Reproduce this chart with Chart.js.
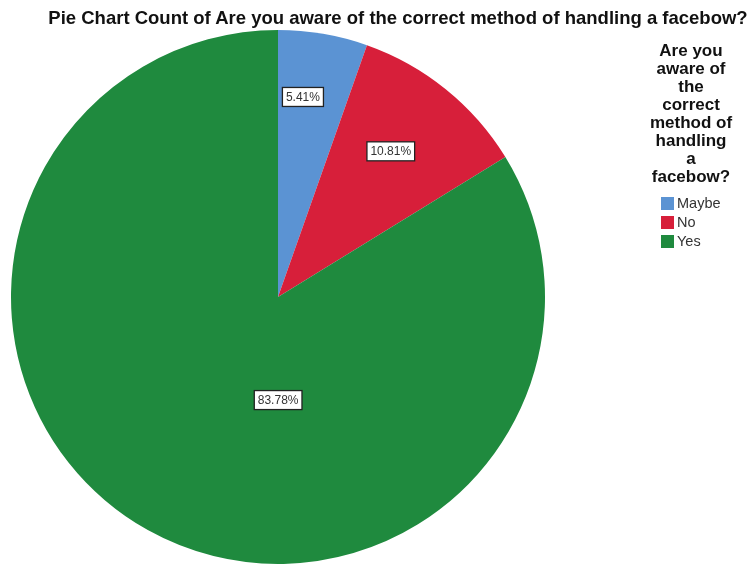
<!DOCTYPE html>
<html>
<head>
<meta charset="utf-8">
<script src="https://cdn.jsdelivr.net/npm/chart.js@4"></script>
<style>
  html, body { margin: 0; padding: 0; background: #fff; }
  #wrap { position: relative; width: 751px; height: 566px; font-family: "Liberation Sans", Arial, sans-serif; }
  #title { position: absolute; left: 0; top: 7px; width: 751px; padding-left: 45px; box-sizing: border-box;
           text-align: center; font-weight: bold; font-size: 18.5px; line-height: 21px; color: #111; white-space: nowrap; }
  #legend { position: absolute; left: 631px; top: 42px; width: 120px; text-align: center; }
  #legend h4 { margin: 0; font-size: 17px; line-height: 18px; font-weight: bold; color: #111; }
  #legend ul { list-style: none; margin: 8px 0 0 30px; padding: 0; text-align: left; }
  #legend li { font-size: 14.5px; line-height: 19px; color: #333; display: flex; align-items: center; }
  #legend li span { display: inline-block; width: 13px; height: 13px; margin-right: 3px; }
  canvas { position: absolute; left: 0; top: 0; }
</style>
</head>
<body>
<div id="wrap">
  <canvas id="pie" width="751" height="566"></canvas>
  <div id="title">Pie Chart Count of Are you aware of the correct method of handling a facebow?</div>
  <div id="legend">
    <h4>Are you<br>aware of<br>the<br>correct<br>method of<br>handling<br>a<br>facebow?</h4>
    <ul id="legend-items"></ul>
  </div>
</div>
<script>
// dados (n = 37)
const categorias = ['Maybe', 'No', 'Yes'];
const contagens = [2, 4, 31];
const rotulos = ['5.41%', '10.81%', '83.78%'];
const cores = ['#5b93d3', '#d71f3a', '#1f8a3e'];

// onde cada rótulo fica dentro da fatia: [fração do ângulo, fração do raio]
const posRotulo = [[0.365, 0.755], [0.47, 0.69], [0.403, 0.386]];

const rotulosPlugin = {
    id: 'rotulos',
    afterDatasetsDraw(chart) {
        const ctx = chart.ctx;
        const arcs = chart.getDatasetMeta(0).data;
        ctx.save();
        ctx.font = '12px "Liberation Sans", Arial, sans-serif';
        ctx.textAlign = 'center';
        ctx.textBaseline = 'middle';
        arcs.forEach((arc, i) => {
            const [fa, fr] = posRotulo[i];
            const ang = arc.startAngle + (arc.endAngle - arc.startAngle) * fa;
            const r = arc.outerRadius * fr;
            const x = arc.x + Math.cos(ang) * r;
            const y = arc.y + Math.sin(ang) * r;
            const w = ctx.measureText(rotulos[i]).width + 7;
            const h = 19;
            ctx.fillStyle = '#fff';
            ctx.fillRect(x - w / 2, y - h / 2, w, h);
            ctx.strokeStyle = '#222';
            ctx.lineWidth = 1.3;
            ctx.strokeRect(x - w / 2, y - h / 2, w, h);
            ctx.fillStyle = '#333';
            ctx.fillText(rotulos[i], x, y + 0.5);
        });
        ctx.restore();
    }
};

new Chart(document.getElementById('pie'), {
    type: 'pie',
    data: {
        labels: categorias,
        datasets: [{
            data: contagens,
            backgroundColor: cores,
            borderWidth: 0
        }]
    },
    options: {
        responsive: false,
        animation: false,
        layout: { padding: { left: 11, right: 206, top: 30, bottom: 2 } },
        plugins: { legend: { display: false }, tooltip: { enabled: false } }
    },
    plugins: [rotulosPlugin]
});

document.getElementById('legend-items').innerHTML = categorias.map((c, i) =>
    `<li><span style="background:${cores[i]}"></span>${c}</li>`
).join('');
</script>
</body>
</html>
